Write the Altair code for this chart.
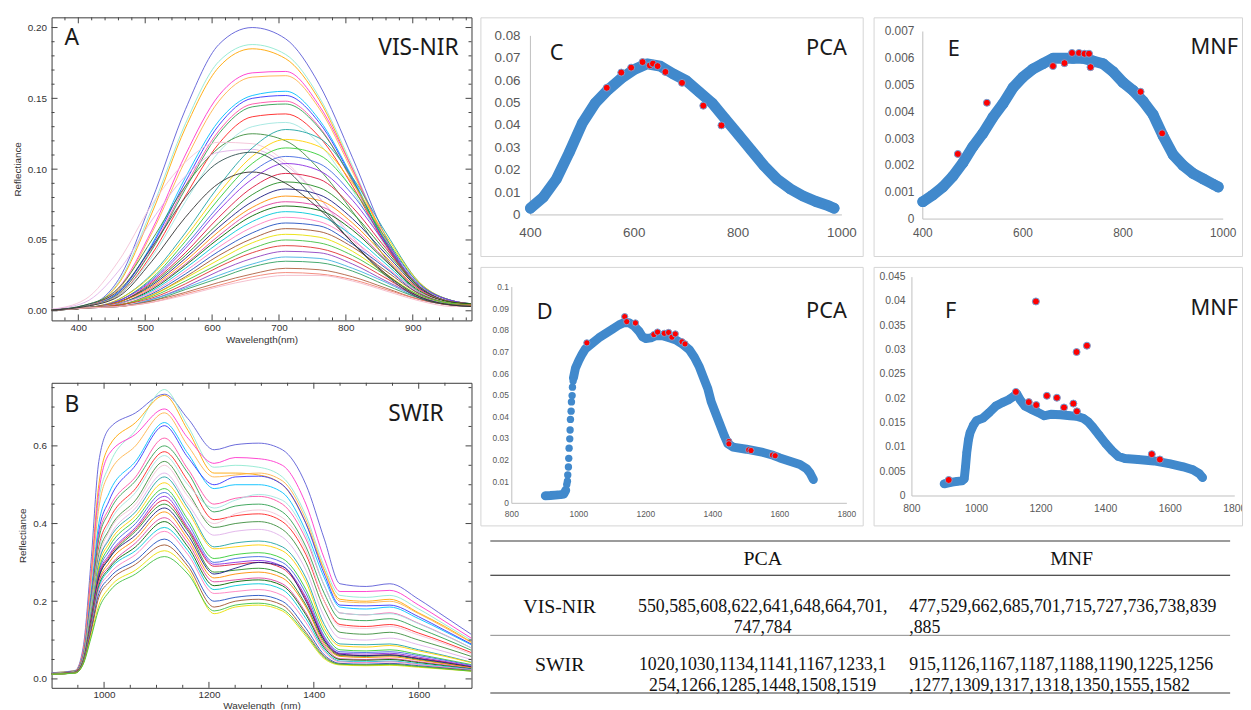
import altair as alt
import pandas as pd

# ======================= DATA =======================
# Panel A: VIS-NIR reflectance spectra (values read at these wavelengths)
A_WL = [360, 410, 460, 510, 560, 610, 660, 710, 760, 810, 860, 910, 960, 987]
A_CURVES = [
    [0.0005, 0.003, 0.022, 0.078, 0.142, 0.188, 0.200, 0.192, 0.160, 0.108, 0.052, 0.016, 0.006, 0.004],
    [0.0005, 0.003, 0.020, 0.072, 0.132, 0.176, 0.188, 0.181, 0.151, 0.102, 0.049, 0.015, 0.006, 0.004],
    [0.0005, 0.003, 0.019, 0.069, 0.129, 0.172, 0.185, 0.178, 0.149, 0.100, 0.048, 0.015, 0.006, 0.004],
    [0.0005, 0.003, 0.016, 0.057, 0.110, 0.152, 0.168, 0.169, 0.145, 0.100, 0.050, 0.016, 0.006, 0.004],
    [0.0005, 0.003, 0.015, 0.055, 0.106, 0.148, 0.165, 0.166, 0.143, 0.098, 0.049, 0.016, 0.006, 0.004],
    [0.0005, 0.003, 0.013, 0.047, 0.094, 0.134, 0.152, 0.155, 0.135, 0.094, 0.048, 0.016, 0.006, 0.004],
    [0.0005, 0.003, 0.013, 0.046, 0.091, 0.131, 0.150, 0.152, 0.133, 0.093, 0.047, 0.016, 0.006, 0.004],
    [0.0005, 0.003, 0.012, 0.044, 0.088, 0.127, 0.146, 0.148, 0.130, 0.091, 0.046, 0.016, 0.006, 0.004],
    [0.0005, 0.003, 0.012, 0.043, 0.086, 0.125, 0.144, 0.146, 0.129, 0.092, 0.048, 0.017, 0.006, 0.004],
    [0.0005, 0.003, 0.011, 0.040, 0.081, 0.118, 0.137, 0.139, 0.123, 0.088, 0.046, 0.016, 0.006, 0.004],
    [0.0005, 0.003, 0.011, 0.038, 0.077, 0.112, 0.130, 0.133, 0.118, 0.085, 0.045, 0.016, 0.006, 0.004],
    [0.0006, 0.004, 0.016, 0.050, 0.088, 0.115, 0.125, 0.120, 0.100, 0.070, 0.037, 0.013, 0.005, 0.004],
    [0.0010, 0.008, 0.035, 0.075, 0.105, 0.119, 0.118, 0.105, 0.080, 0.050, 0.024, 0.008, 0.004, 0.003],
    [0.0010, 0.006, 0.028, 0.064, 0.095, 0.112, 0.114, 0.103, 0.080, 0.052, 0.026, 0.009, 0.004, 0.003],
    [0.0005, 0.002, 0.008, 0.026, 0.055, 0.088, 0.115, 0.128, 0.122, 0.094, 0.055, 0.020, 0.007, 0.005],
    [0.0005, 0.002, 0.008, 0.025, 0.052, 0.083, 0.109, 0.121, 0.116, 0.090, 0.053, 0.020, 0.007, 0.005],
    [0.0005, 0.002, 0.007, 0.023, 0.049, 0.079, 0.104, 0.115, 0.110, 0.086, 0.051, 0.019, 0.007, 0.005],
    [0.0005, 0.002, 0.007, 0.022, 0.046, 0.074, 0.098, 0.109, 0.104, 0.082, 0.049, 0.019, 0.007, 0.005],
    [0.0005, 0.002, 0.007, 0.021, 0.044, 0.071, 0.093, 0.104, 0.099, 0.078, 0.047, 0.018, 0.007, 0.005],
    [0.0005, 0.002, 0.006, 0.020, 0.041, 0.066, 0.087, 0.097, 0.093, 0.073, 0.044, 0.017, 0.006, 0.005],
    [0.0005, 0.002, 0.006, 0.019, 0.039, 0.062, 0.082, 0.091, 0.087, 0.069, 0.042, 0.017, 0.006, 0.005],
    [0.0005, 0.002, 0.006, 0.018, 0.037, 0.059, 0.077, 0.086, 0.082, 0.065, 0.040, 0.016, 0.006, 0.005],
    [0.0005, 0.002, 0.006, 0.017, 0.035, 0.056, 0.073, 0.081, 0.078, 0.062, 0.038, 0.015, 0.006, 0.005],
    [0.0005, 0.002, 0.005, 0.016, 0.033, 0.053, 0.070, 0.077, 0.074, 0.059, 0.036, 0.015, 0.006, 0.005],
    [0.0005, 0.002, 0.005, 0.015, 0.032, 0.051, 0.067, 0.074, 0.071, 0.057, 0.035, 0.014, 0.006, 0.005],
    [0.0005, 0.002, 0.005, 0.014, 0.030, 0.048, 0.063, 0.070, 0.067, 0.053, 0.033, 0.013, 0.005, 0.004],
    [0.0005, 0.002, 0.005, 0.013, 0.028, 0.045, 0.059, 0.066, 0.063, 0.050, 0.031, 0.013, 0.005, 0.004],
    [0.0005, 0.002, 0.004, 0.012, 0.026, 0.042, 0.055, 0.062, 0.060, 0.047, 0.030, 0.012, 0.005, 0.004],
    [0.0005, 0.002, 0.004, 0.011, 0.024, 0.039, 0.051, 0.058, 0.056, 0.045, 0.028, 0.012, 0.005, 0.004],
    [0.0005, 0.002, 0.004, 0.011, 0.023, 0.036, 0.048, 0.054, 0.052, 0.042, 0.026, 0.011, 0.005, 0.004],
    [0.0005, 0.002, 0.004, 0.010, 0.021, 0.033, 0.044, 0.050, 0.048, 0.039, 0.025, 0.011, 0.005, 0.004],
    [0.0005, 0.002, 0.004, 0.009, 0.019, 0.031, 0.041, 0.046, 0.044, 0.036, 0.023, 0.010, 0.004, 0.004],
    [0.0005, 0.002, 0.003, 0.008, 0.017, 0.028, 0.037, 0.042, 0.041, 0.033, 0.021, 0.010, 0.004, 0.003],
    [0.0005, 0.002, 0.003, 0.008, 0.016, 0.025, 0.033, 0.038, 0.037, 0.030, 0.020, 0.009, 0.004, 0.003],
    [0.0005, 0.002, 0.003, 0.007, 0.015, 0.023, 0.031, 0.035, 0.034, 0.028, 0.018, 0.009, 0.004, 0.003],
    [0.0005, 0.002, 0.003, 0.007, 0.013, 0.020, 0.026, 0.030, 0.029, 0.024, 0.016, 0.008, 0.004, 0.003],
    [0.0005, 0.002, 0.003, 0.006, 0.012, 0.018, 0.024, 0.027, 0.026, 0.022, 0.015, 0.008, 0.004, 0.003],
    [0.0005, 0.002, 0.003, 0.006, 0.011, 0.017, 0.022, 0.025, 0.025, 0.021, 0.014, 0.007, 0.003, 0.003],
    [0.0006, 0.004, 0.014, 0.045, 0.080, 0.105, 0.112, 0.100, 0.075, 0.048, 0.025, 0.009, 0.004, 0.003],
    [0.0005, 0.003, 0.010, 0.035, 0.066, 0.090, 0.098, 0.090, 0.072, 0.048, 0.026, 0.010, 0.004, 0.003],
]
A_COLORS = ["#5b5bd6", "#8fe8d0", "#ffa500", "#ff33cc", "#ffb347", "#00bfff", "#3333ff", "#ff4da6",
            "#2e9e4f", "#ff2020", "#a0e6e0", "#3c8c3c", "#f4c2d7", "#e0b0e8", "#1fa3a3", "#ffd000",
            "#32cd32", "#4169e1", "#8a2be2", "#dc143c", "#228b22", "#1a1a80", "#ff8c00", "#e040a0",
            "#006400", "#00c8d8", "#ff7fbf", "#2050c0", "#a0522d", "#e8e000", "#40c040", "#e03030",
            "#9040c0", "#40b0e0", "#30a060", "#b06040", "#f08070", "#f4b8c8", "#2f4f4f", "#303030"]

# Panel B: SWIR reflectance spectra
B_WL = [900, 945, 960, 975, 990, 1010, 1060, 1115, 1160, 1210, 1250, 1295, 1340, 1385, 1420, 1450, 1500, 1545, 1600, 1650, 1700]
B_CURVES = [
    [0.016, 0.022, 0.080, 0.300, 0.560, 0.645, 0.685, 0.733, 0.670, 0.590, 0.603, 0.607, 0.590, 0.500, 0.360, 0.245, 0.238, 0.245, 0.205, 0.160, 0.115],
    [0.016, 0.021, 0.070, 0.260, 0.460, 0.550, 0.640, 0.745, 0.650, 0.545, 0.550, 0.545, 0.520, 0.420, 0.290, 0.215, 0.210, 0.215, 0.180, 0.140, 0.100],
    [0.016, 0.021, 0.070, 0.270, 0.500, 0.600, 0.660, 0.730, 0.640, 0.530, 0.530, 0.525, 0.500, 0.400, 0.280, 0.205, 0.200, 0.205, 0.170, 0.135, 0.095],
    [0.015, 0.020, 0.070, 0.260, 0.480, 0.580, 0.630, 0.695, 0.620, 0.555, 0.570, 0.567, 0.550, 0.450, 0.310, 0.225, 0.225, 0.228, 0.190, 0.148, 0.105],
    [0.015, 0.020, 0.065, 0.240, 0.440, 0.530, 0.600, 0.685, 0.600, 0.520, 0.525, 0.530, 0.510, 0.410, 0.280, 0.200, 0.196, 0.200, 0.168, 0.132, 0.094],
    [0.015, 0.020, 0.060, 0.220, 0.400, 0.480, 0.560, 0.660, 0.580, 0.490, 0.500, 0.500, 0.480, 0.380, 0.260, 0.185, 0.180, 0.185, 0.155, 0.122, 0.088],
    [0.015, 0.020, 0.060, 0.210, 0.380, 0.460, 0.550, 0.652, 0.570, 0.500, 0.520, 0.522, 0.500, 0.400, 0.270, 0.190, 0.188, 0.190, 0.160, 0.125, 0.090],
    [0.014, 0.019, 0.058, 0.200, 0.370, 0.440, 0.520, 0.620, 0.540, 0.450, 0.465, 0.470, 0.450, 0.360, 0.240, 0.170, 0.165, 0.170, 0.143, 0.113, 0.080],
    [0.014, 0.019, 0.056, 0.200, 0.360, 0.430, 0.510, 0.600, 0.530, 0.430, 0.445, 0.450, 0.430, 0.340, 0.220, 0.155, 0.150, 0.155, 0.130, 0.103, 0.074],
    [0.014, 0.019, 0.055, 0.190, 0.340, 0.410, 0.490, 0.585, 0.510, 0.410, 0.420, 0.425, 0.405, 0.320, 0.200, 0.140, 0.135, 0.140, 0.118, 0.094, 0.068],
    [0.014, 0.018, 0.054, 0.190, 0.330, 0.400, 0.480, 0.575, 0.500, 0.440, 0.460, 0.475, 0.460, 0.370, 0.240, 0.170, 0.165, 0.168, 0.142, 0.112, 0.080],
    [0.014, 0.018, 0.052, 0.180, 0.320, 0.385, 0.460, 0.560, 0.480, 0.390, 0.400, 0.405, 0.385, 0.300, 0.180, 0.120, 0.115, 0.120, 0.100, 0.080, 0.058],
    [0.014, 0.018, 0.050, 0.180, 0.310, 0.380, 0.450, 0.550, 0.470, 0.400, 0.425, 0.435, 0.415, 0.330, 0.200, 0.135, 0.130, 0.135, 0.113, 0.090, 0.064],
    [0.013, 0.018, 0.050, 0.170, 0.300, 0.365, 0.440, 0.530, 0.450, 0.370, 0.380, 0.385, 0.365, 0.280, 0.160, 0.105, 0.100, 0.105, 0.088, 0.070, 0.050],
    [0.013, 0.018, 0.050, 0.170, 0.300, 0.360, 0.430, 0.520, 0.440, 0.340, 0.350, 0.355, 0.340, 0.260, 0.140, 0.090, 0.088, 0.090, 0.075, 0.060, 0.043],
    [0.013, 0.017, 0.048, 0.160, 0.290, 0.350, 0.420, 0.505, 0.430, 0.335, 0.340, 0.345, 0.330, 0.250, 0.130, 0.085, 0.082, 0.086, 0.072, 0.058, 0.042],
    [0.013, 0.017, 0.047, 0.160, 0.280, 0.340, 0.410, 0.490, 0.410, 0.310, 0.320, 0.325, 0.310, 0.230, 0.120, 0.075, 0.072, 0.075, 0.063, 0.050, 0.037],
    [0.013, 0.017, 0.046, 0.155, 0.275, 0.330, 0.400, 0.480, 0.400, 0.300, 0.310, 0.315, 0.300, 0.220, 0.110, 0.070, 0.068, 0.070, 0.060, 0.048, 0.035],
    [0.013, 0.017, 0.045, 0.150, 0.270, 0.320, 0.390, 0.470, 0.390, 0.295, 0.300, 0.305, 0.290, 0.210, 0.105, 0.066, 0.064, 0.066, 0.056, 0.045, 0.033],
    [0.013, 0.017, 0.045, 0.150, 0.265, 0.315, 0.385, 0.460, 0.385, 0.290, 0.295, 0.300, 0.285, 0.205, 0.100, 0.062, 0.060, 0.062, 0.053, 0.043, 0.031],
    [0.013, 0.017, 0.044, 0.145, 0.260, 0.310, 0.380, 0.450, 0.380, 0.275, 0.280, 0.285, 0.270, 0.190, 0.095, 0.060, 0.058, 0.060, 0.050, 0.040, 0.030],
    [0.013, 0.017, 0.044, 0.145, 0.260, 0.310, 0.370, 0.440, 0.370, 0.270, 0.285, 0.300, 0.290, 0.200, 0.100, 0.064, 0.060, 0.062, 0.052, 0.042, 0.031],
    [0.013, 0.017, 0.043, 0.140, 0.250, 0.300, 0.360, 0.430, 0.360, 0.260, 0.270, 0.275, 0.260, 0.185, 0.090, 0.058, 0.055, 0.057, 0.048, 0.039, 0.029],
    [0.012, 0.016, 0.042, 0.140, 0.250, 0.290, 0.350, 0.415, 0.350, 0.250, 0.255, 0.260, 0.245, 0.170, 0.085, 0.052, 0.050, 0.052, 0.044, 0.036, 0.027],
    [0.012, 0.016, 0.042, 0.135, 0.240, 0.285, 0.340, 0.405, 0.340, 0.240, 0.250, 0.255, 0.240, 0.165, 0.080, 0.050, 0.048, 0.050, 0.042, 0.034, 0.026],
    [0.012, 0.016, 0.041, 0.130, 0.235, 0.280, 0.330, 0.390, 0.330, 0.230, 0.240, 0.245, 0.230, 0.155, 0.075, 0.046, 0.044, 0.046, 0.039, 0.032, 0.025],
    [0.012, 0.016, 0.040, 0.130, 0.230, 0.270, 0.320, 0.380, 0.320, 0.220, 0.225, 0.230, 0.215, 0.145, 0.070, 0.044, 0.042, 0.044, 0.037, 0.030, 0.024],
    [0.012, 0.016, 0.040, 0.125, 0.220, 0.260, 0.305, 0.360, 0.300, 0.200, 0.210, 0.215, 0.200, 0.130, 0.062, 0.040, 0.038, 0.040, 0.034, 0.028, 0.022],
    [0.012, 0.016, 0.040, 0.120, 0.210, 0.250, 0.295, 0.345, 0.290, 0.185, 0.200, 0.205, 0.190, 0.120, 0.058, 0.038, 0.036, 0.038, 0.032, 0.027, 0.021],
    [0.012, 0.015, 0.038, 0.110, 0.190, 0.235, 0.280, 0.330, 0.280, 0.168, 0.185, 0.190, 0.175, 0.110, 0.052, 0.036, 0.034, 0.035, 0.030, 0.025, 0.020],
    [0.012, 0.015, 0.037, 0.105, 0.180, 0.225, 0.270, 0.315, 0.270, 0.175, 0.190, 0.195, 0.180, 0.115, 0.055, 0.038, 0.036, 0.037, 0.032, 0.026, 0.020],
]
B_COLORS = ["#ff8060", "#8b4513", "#87b5f0", "#3040c0", "#7fb0ff", "#e07030", "#20a020", "#3060e0",
            "#20d0e0", "#f0c000", "#30b030", "#ff30c0", "#7030a0", "#ff90c0", "#a01010", "#2020ff",
            "#00a050", "#00c0c0", "#008080", "#808000", "#ff2020", "#101070", "#e0d000", "#10c010",
            "#e000e0", "#4060ff", "#ffa020", "#30c8f0", "#ff80b0", "#ff7060", "#ffb0a0"]

# Panel C: PCA, VIS-NIR
C_WL = [400, 425, 450, 475, 500, 525, 550, 575, 600, 625, 650, 675, 700, 725, 750, 775, 800, 825, 850, 875, 900, 925, 950, 975, 985]
C_VAL = [0.003, 0.008, 0.016, 0.028, 0.041, 0.050, 0.056, 0.061, 0.065, 0.0675, 0.0665, 0.063, 0.060, 0.055, 0.050, 0.043, 0.036, 0.029, 0.022, 0.016, 0.0117, 0.0085, 0.006, 0.004, 0.003]
C_SEL_WL = [547, 575, 594, 616, 630, 636, 645, 660, 692, 733, 768]
C_SEL_VAL = [0.0568, 0.0636, 0.0658, 0.0683, 0.0668, 0.0676, 0.0665, 0.0639, 0.0590, 0.0488, 0.0400]

# Panel E: MNF, VIS-NIR
E_WL = [400, 420, 440, 460, 480, 500, 520, 540, 560, 580, 600, 620, 640, 660, 680, 700, 720, 740, 760, 780, 800, 820, 840, 860, 880, 900, 920, 940, 960, 980, 990]
E_VAL = [0.00065, 0.0009, 0.0012, 0.0016, 0.0021, 0.0027, 0.0032, 0.0038, 0.0043, 0.0049, 0.0053, 0.0056, 0.0058, 0.0060, 0.0060, 0.0060, 0.0060, 0.0059, 0.0058, 0.0055, 0.0051, 0.0048, 0.0044, 0.0039, 0.0031, 0.0024, 0.0020, 0.0017, 0.0015, 0.0013, 0.0012]
E_SEL_WL = [470, 528, 660, 683, 698, 712, 723, 732, 735, 835, 878]
E_SEL_VAL = [0.00243, 0.00434, 0.00571, 0.00582, 0.0062, 0.0062, 0.00617, 0.00617, 0.00567, 0.00475, 0.0032]

# Panel D: PCA, SWIR
D_LOW_WL = [900, 915, 930, 945, 955, 961]
D_LOW_VAL = [0.0035, 0.0036, 0.0038, 0.0040, 0.0043, 0.0060]
D_RISE_WL = [964, 966, 967, 969, 970, 971, 973, 974, 975, 977, 978, 980, 981, 983]
D_RISE_VAL = [0.0087, 0.0102, 0.0131, 0.0168, 0.0208, 0.0255, 0.0298, 0.0339, 0.0388, 0.0426, 0.0469, 0.0498, 0.0537, 0.0565]
D_HIGH_WL = [984, 990, 1000, 1010, 1020, 1040, 1060, 1080, 1100, 1120, 1135, 1150, 1165, 1180, 1190, 1200, 1215, 1230, 1250, 1270,
             1290, 1310, 1330, 1345, 1360, 1375, 1385, 1395, 1405, 1420, 1435, 1445, 1460, 1500, 1550, 1580, 1600, 1630, 1660, 1680, 1690, 1700]
D_HIGH_VAL = [0.058, 0.0625, 0.066, 0.069, 0.0715, 0.074, 0.0765, 0.0785, 0.0805, 0.0825, 0.0835, 0.0835, 0.082, 0.0795, 0.077, 0.0762, 0.0765, 0.0775, 0.0775, 0.0765,
              0.0755, 0.0735, 0.071, 0.0675, 0.063, 0.057, 0.053, 0.047, 0.043, 0.037, 0.031, 0.0275, 0.026, 0.025, 0.0235, 0.0222, 0.021, 0.0195, 0.018, 0.016, 0.014, 0.011]
D_SEL_WL = [1024, 1137, 1143, 1169, 1224, 1235, 1255, 1268, 1278, 1288, 1308, 1317, 1448, 1448, 1507, 1514, 1578, 1586]
D_SEL_VAL = [0.0742, 0.0863, 0.084, 0.0834, 0.078, 0.0792, 0.0786, 0.079, 0.0768, 0.0783, 0.0747, 0.0737, 0.0286, 0.0275, 0.0247, 0.0244, 0.0223, 0.022]

# Panel F: MNF, SWIR
F_WL = [900, 920, 940, 955, 962, 966, 970, 975, 980, 990, 1000, 1020, 1040, 1060, 1080, 1100, 1115, 1125, 1135, 1150, 1170,
        1190, 1210, 1230, 1260, 1290, 1310, 1330, 1345, 1360, 1380, 1400, 1420, 1440, 1460, 1500, 1550, 1600, 1640, 1670, 1690, 1700]
F_VAL = [0.0025, 0.0028, 0.003, 0.0031, 0.0035, 0.006, 0.009, 0.0115, 0.013, 0.0145, 0.0155, 0.016, 0.0172, 0.0185, 0.0192, 0.0198, 0.0205, 0.021, 0.0198, 0.0185, 0.0178,
         0.0172, 0.0165, 0.0168, 0.0167, 0.0165, 0.0164, 0.016, 0.0153, 0.0142, 0.0125, 0.0108, 0.0093, 0.0081, 0.0077, 0.0075, 0.0072, 0.0066, 0.006, 0.0054, 0.0046, 0.0038]
F_SEL_WL = [914, 1122, 1162, 1184, 1185, 1218, 1249, 1271, 1300, 1310, 1311, 1342, 1543, 1568]
F_SEL_VAL = [0.0033, 0.0214, 0.0193, 0.040, 0.0187, 0.0206, 0.0202, 0.0182, 0.019, 0.0296, 0.0174, 0.0309, 0.0086, 0.0075]

# Table
TABLE_HEAD = ["PCA", "MNF"]
TABLE_ROWS = ["VIS-NIR", "SWIR"]
PCA_VIS = ["550,585,608,622,641,648,664,701,", "747,784"]
MNF_VIS = ["477,529,662,685,701,715,727,736,738,839", ",885"]
PCA_SWIR = ["1020,1030,1134,1141,1167,1233,1", "254,1266,1285,1448,1508,1519"]
MNF_SWIR = ["915,1126,1167,1187,1188,1190,1225,1256", ",1277,1309,1317,1318,1350,1555,1582"]

# ======================= STYLE / LAYOUT =======================
AX_FONT = "Liberation Sans"
TXT_FONT = "Noto Sans"
TAB_FONT = "Liberation Serif"
BLUE = "#4189cc"
RED = "#ff0000"
BOX = "#d4d4d4"
AXLINE = "#bfbfbf"
ONE = pd.DataFrame({"k": [0]})


def lin(v0, p0, v1, p1, p):
    return v0 + (p - p0) * (v1 - v0) / (p1 - p0)


def label(text, x, y, align, size):
    return alt.Chart(pd.DataFrame({"t": [text]})).mark_text(
        align=align, baseline="middle", fontSize=size, font=TXT_FONT, color="#1a1a1a"
    ).encode(text="t:N", x=alt.value(x), y=alt.value(y))


def edge_ticks(vals, scale, channel, w, h, length):
    """Inward tick marks on both edges of the frame, placed through the panel's scale."""
    df = pd.DataFrame({"v": vals})
    c = alt.Chart(df).mark_rule(color="#444444", strokeWidth=1)
    if channel == "x":
        enc = dict(x=alt.X("v:Q", scale=scale, axis=None))
        return [c.encode(y=alt.value(0), y2=alt.value(length), **enc),
                c.encode(y=alt.value(h - length), y2=alt.value(h), **enc)]
    enc = dict(y=alt.Y("v:Q", scale=scale, axis=None))
    return [c.encode(x=alt.value(0), x2=alt.value(length), **enc),
            c.encode(x=alt.value(w - length), x2=alt.value(w), **enc)]


def spectra_panel(wl, curves, colors, P):
    w, h = P["w"], P["h"]
    xd = [lin(*P["xa"], 0), lin(*P["xa"], w)]
    yd = sorted([lin(*P["ya"], 0), lin(*P["ya"], h)])
    rows = [{"wl": x, "r": v, "id": i} for i, c in enumerate(curves) for x, v in zip(wl, c)]
    xs = alt.Scale(domain=xd, nice=False, zero=False)
    ys = alt.Scale(domain=yd, nice=False, zero=False)
    lab = dict(labelFont=AX_FONT, labelFontSize=10, labelColor="#333333", titleFont=AX_FONT,
               titleFontSize=10, titleFontWeight="normal", titleColor="#333333",
               ticks=False, tickSize=0, domain=False, grid=False)
    lines = alt.Chart(pd.DataFrame(rows)).mark_line(strokeWidth=0.9, interpolate="monotone").encode(
        x=alt.X("wl:Q", scale=xs, axis=alt.Axis(orient="bottom", values=P["xlab"], format="d", title=P["xtitle"],
                                                 labelPadding=P["xlp"], titlePadding=P["xtp"], **lab)),
        y=alt.Y("r:Q", scale=ys, axis=alt.Axis(orient="left", values=P["ylab"], format=P["yfmt"],
                                                title="Reflectiance", labelPadding=5, titlePadding=P["ytp"], **lab)),
        color=alt.Color("id:N", scale=alt.Scale(domain=list(range(len(curves))), range=colors), legend=None),
    )
    minor_x = [v for v in P["xtick"] if v not in P["xlab"]]
    minor_y = [v for v in P["ytick"] if all(abs(v - m) > 1e-9 for m in P["ylab"])]
    ticks = (edge_ticks(minor_x, xs, "x", w, h, 3) + edge_ticks(P["xlab"], xs, "x", w, h, 6)
             + edge_ticks(minor_y, ys, "y", w, h, 3) + edge_ticks(P["ylab"], ys, "y", w, h, 6))
    t1 = label(P["letter"], P["lx"], P["ly"], "left", P["fs"])
    t2 = label(P["tag"], P["tx"], P["ty"], "right", P["fs"])
    return alt.layer(lines, *ticks, t1, t2).resolve_axis(x="independent", y="independent").properties(
        width=w, height=h, view=alt.ViewBackground(stroke="#3a3a3a", strokeWidth=1))


def box_panel(segments, extra, sel, P):
    W, H = P["W"], P["H"]              # the bordered box is the panel's view
    px0, py0 = P["xa"][1], P["ya"][1]  # pixel position of the axis lines inside the box
    xd = [lin(*P["xa"], 0), lin(*P["xa"], W)]
    yd = sorted([lin(*P["ya"], 0), lin(*P["ya"], H)])
    xs = alt.Scale(domain=xd, nice=False, zero=False)
    ys = alt.Scale(domain=yd, nice=False, zero=False)
    band_rows = [{"wl": x, "v": v, "seg": s} for s, (ws, vs) in enumerate(segments) for x, v in zip(ws, vs)]
    dot_rows = band_rows + [{"wl": x, "v": v, "seg": -1} for x, v in zip(extra[0], extra[1])]
    xr = alt.Chart(pd.DataFrame({"a": [P["xlab"][0]], "b": [P["xlab"][-1]], "c": [P["ylab"][0]]})).mark_rule(
        color=AXLINE, strokeWidth=1).encode(
        x=alt.X("a:Q", scale=xs, axis=None), x2="b:Q", y=alt.Y("c:Q", scale=ys, axis=None))
    yr = alt.Chart(pd.DataFrame({"a": [P["xlab"][0]], "b": [P["ylab"][0]], "c": [P["ylab"][-1]]})).mark_rule(
        color=AXLINE, strokeWidth=1).encode(
        x=alt.X("a:Q", scale=xs, axis=None), y=alt.Y("b:Q", scale=ys, axis=None), y2="c:Q")
    band = alt.Chart(pd.DataFrame(band_rows)).mark_line(
        color=BLUE, strokeWidth=P["bw"], strokeCap="round", strokeJoin="round").encode(
        x=alt.X("wl:Q", scale=xs, axis=None), y=alt.Y("v:Q", scale=ys, axis=None), detail="seg:N")
    dots = alt.Chart(pd.DataFrame(dot_rows)).mark_circle(color=BLUE, opacity=1, size=P["ds"]).encode(
        x=alt.X("wl:Q", scale=xs, axis=None), y=alt.Y("v:Q", scale=ys, axis=None))
    red = alt.Chart(pd.DataFrame({"wl": sel[0], "v": sel[1]})).mark_circle(
        color=RED, opacity=1, size=P["rs"], stroke="#6fa3d8", strokeWidth=1).encode(
        x=alt.X("wl:Q", scale=xs, axis=None), y=alt.Y("v:Q", scale=ys, axis=None))
    # tick labels of the Excel-style axes, placed through the panel's scales (clipped to the box,
    # so a label that runs past the window edge is cut as in the original figure)
    xl = alt.Chart(pd.DataFrame({"v": P["xlab"]})).mark_text(
        font=AX_FONT, fontSize=P["afs"], color="#595959", align="center", baseline="top", clip=True).encode(
        x=alt.X("v:Q", scale=xs, axis=None), y=alt.value(py0 + P["xlp"]), text=alt.Text("v:Q", format="d"))
    yl = alt.Chart(pd.DataFrame({"v": P["ylab"]})).mark_text(
        font=AX_FONT, fontSize=P["afs"], color="#595959", align="right", baseline="middle").encode(
        y=alt.Y("v:Q", scale=ys, axis=None), x=alt.value(px0 - P["ylp"]), text=alt.Text("v:Q", format=P["yfmt"]))
    t1 = label(P["letter"], P["lx"], P["ly"], "left", P["fs"])
    t2 = label(P["tag"], P["tx"], P["ty"], "right", P["fs"])
    return alt.layer(xr, yr, band, dots, red, xl, yl, t1, t2).properties(
        width=W, height=H, view=alt.ViewBackground(stroke=BOX, strokeWidth=1))


def table_panel(P):
    w, h = P["w"], P["h"]
    Y = P["y"]
    layers = []
    for key, col, sw in [("top", "#7a7a7a", 1.5), ("hline", "#1a1a1a", 1.2), ("mline", "#8a8a8a", 1.0), ("bottom", "#7a7a7a", 1.5)]:
        layers.append(alt.Chart(ONE).mark_rule(color=col, strokeWidth=sw).encode(
            x=alt.value(P["x0"]), x2=alt.value(P["x1"]), y=alt.value(Y[key])))

    def cell(text, x, y, align, size):
        return alt.Chart(pd.DataFrame({"t": [text]})).mark_text(
            align=align, baseline="middle", font=TAB_FONT, fontSize=size, color="#111111",
            lineBreak="\n", lineHeight=P["lh"]).encode(text="t:N", x=alt.value(x), y=alt.value(y))

    layers.append(cell(TABLE_HEAD[0], P["pca_x"], Y["head"], "center", P["hfs"]))
    layers.append(cell(TABLE_HEAD[1], P["mnf_hx"], Y["head"], "center", P["hfs"]))
    layers.append(cell(TABLE_ROWS[0], P["row_x"], Y["vis"], "center", P["hfs"]))
    layers.append(cell(TABLE_ROWS[1], P["row_x"], Y["swir"], "center", P["hfs"]))
    layers.append(cell("\n".join(PCA_VIS), P["pca_x"], Y["vis"], "center", P["nfs"]))
    layers.append(cell("\n".join(MNF_VIS), P["mnf_x"], Y["vis"], "left", P["nfs"]))
    layers.append(cell("\n".join(PCA_SWIR), P["pca_x"], Y["swir"], "center", P["nfs"]))
    layers.append(cell("\n".join(MNF_SWIR), P["mnf_x"], Y["swir"], "left", P["nfs"]))
    return alt.layer(*layers).properties(width=w, height=h, view=alt.ViewBackground(stroke="transparent"))


LAY_A = dict(w=424, h=306, xa=(400, 27.0, 900, 364.7), ya=(0.2, 10.3, 0.0, 296.3),
             xlab=[400, 500, 600, 700, 800, 900], xtick=list(range(380, 988, 20)),
             ylab=[0.0, 0.05, 0.10, 0.15, 0.20], ytick=[i / 100 for i in range(0, 21)], yfmt=".2f",
             xtitle="Wavelength(nm)", xlp=2, xtp=2, ytp=5,
             letter="A", tag="VIS-NIR", lx=13, ly=21, tx=411, ty=31, fs=23)
LAY_B = dict(w=424, h=308, xa=(1000, 53.0, 1600, 370.7), ya=(0.6, 63.7, 0.0, 299.0),
             xlab=[1000, 1200, 1400, 1600], xtick=list(range(950, 1700, 50)),
             ylab=[0.0, 0.2, 0.4, 0.6], ytick=[i / 20 for i in range(0, 16)], yfmt=".1f",
             xtitle="Wavelength\u00a0\u00a0(nm)", xlp=2, xtp=1, ytp=5,
             letter="B", tag="SWIR", lx=13, ly=22, tx=396, ty=32, fs=23)
# box-panel anchors: (value, pixel-from-box-left) / (value, pixel-from-box-top)
LAY_C = dict(W=386, H=241, xa=(400, 50.5, 1000, 365.0), ya=(0.0, 199.5, 0.08, 18.7),
             xlab=[400, 600, 800, 1000], ylab=[i / 100 for i in range(0, 9)], yfmt=".2~f",
             afs=13.5, xlp=11, ylp=10, bw=11, ds=110, rs=50,
             letter="C", tag="PCA", lx=70, ly=36, tx=370, ty=31, fs=22)
LAY_E = dict(W=372, H=241, xa=(400, 49.7, 1000, 353.0), ya=(0.0, 203.7, 0.007, 14.3),
             xlab=[400, 600, 800, 1000], ylab=[i / 1000 for i in range(0, 8)], yfmt=".3~f",
             afs=12, xlp=9, ylp=8.5, bw=11, ds=120, rs=50,
             letter="E", tag="MNF", lx=75, ly=32, tx=368, ty=30.5, fs=22)
LAY_D = dict(W=386, H=261, xa=(800, 31.7, 1800, 370.0), ya=(0.0, 238.7, 0.1, 20.3),
             xlab=[800, 1000, 1200, 1400, 1600, 1800], ylab=[i / 100 for i in range(0, 11)], yfmt=".2~f",
             afs=8.5, xlp=7, ylp=3, bw=9, ds=55, rs=40,
             letter="D", tag="PCA", lx=57, ly=46, tx=370, ty=45, fs=22)
LAY_F = dict(W=372, H=261, xa=(800, 38.7, 1800, 364.7), ya=(0.0, 231.3, 0.045, 10.3),
             xlab=[800, 1000, 1200, 1400, 1600, 1800], ylab=[i / 1000 for i in range(0, 50, 5)], yfmt=".3~f",
             afs=10.5, xlp=8.5, ylp=6.5, bw=9, ds=70, rs=50,
             letter="F", tag="MNF", lx=72, ly=44.5, tx=368, ty=42, fs=22)
LAY_T = dict(w=768, h=160, x0=10, x1=757,
             y=dict(top=4.7, head=23.3, hline=39.3, vis=71.2, mline=100.0, swir=130.5, bottom=158.3),
             pca_x=285, mnf_x=433, mnf_hx=597, row_x=80, lh=21, hfs=20, nfs=18)

A = spectra_panel(A_WL, A_CURVES, A_COLORS, LAY_A)
B = spectra_panel(B_WL, B_CURVES, B_COLORS, LAY_B)
C = box_panel([(C_WL, C_VAL)], ([], []), (C_SEL_WL, C_SEL_VAL), LAY_C)
E = box_panel([(E_WL, E_VAL)], ([], []), (E_SEL_WL, E_SEL_VAL), LAY_E)
D = box_panel([(D_LOW_WL, D_LOW_VAL), (D_HIGH_WL, D_HIGH_VAL)], (D_RISE_WL, D_RISE_VAL), (D_SEL_WL, D_SEL_VAL), LAY_D)
F = box_panel([(F_WL, F_VAL)], ([], []), (F_SEL_WL, F_SEL_VAL), LAY_F)
T = table_panel(LAY_T)

left = alt.vconcat(A, B, spacing=63, bounds="flush")
row1 = alt.hconcat(C, E, spacing=11, bounds="flush")
row2 = alt.hconcat(D, F, spacing=11, bounds="flush")
right = alt.vconcat(row1, row2, T, spacing=9)
chart = alt.hconcat(left, right, spacing=6).properties(
    padding={"left": 4, "top": 5, "right": 0, "bottom": 0}
).configure(background="white")

chart.save("out.html", embed_options={"renderer": "svg", "actions": False})
